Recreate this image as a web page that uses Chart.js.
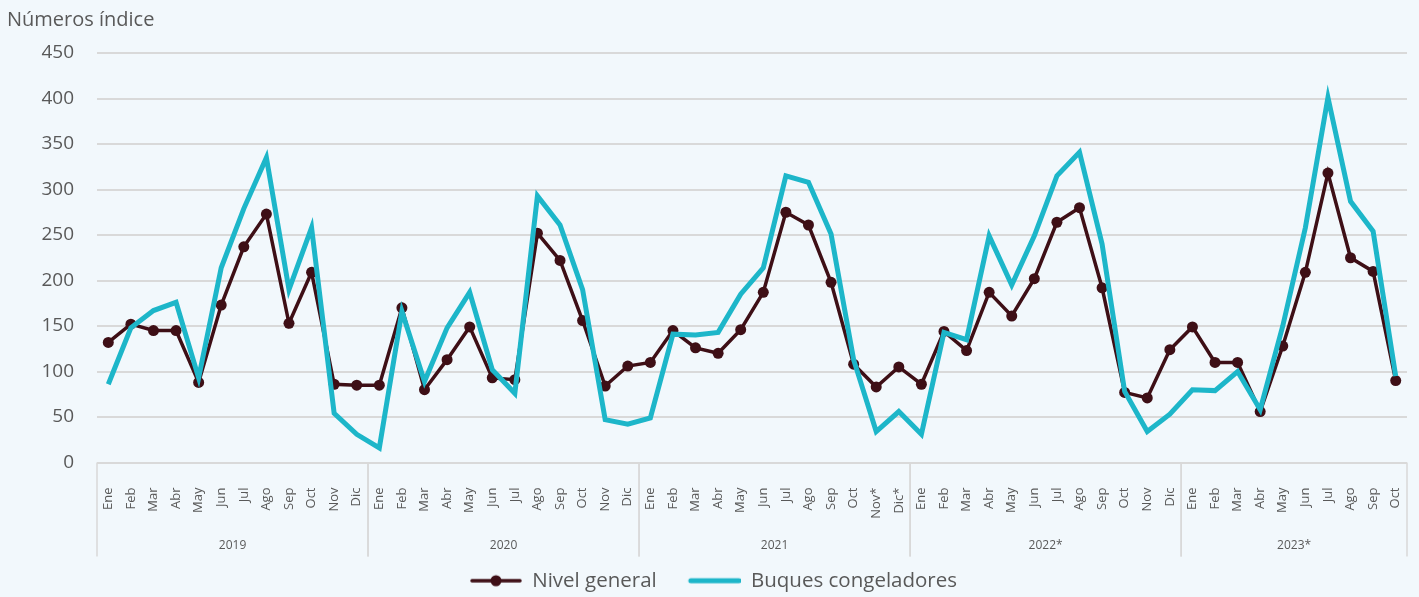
<!DOCTYPE html>
<html lang="es">
<head>
<meta charset="utf-8">
<title>Números índice</title>
<script src="https://cdn.jsdelivr.net/npm/chart.js@4.4.1/dist/chart.umd.min.js"></script>
<style>
  html, body { margin: 0; padding: 0; background: #F2F8FC; }
  #wrap { width: 1419px; height: 597px; }
</style>
</head>
<body>
<div id="wrap"><canvas id="chart" width="1419" height="597"></canvas></div>
<script>
// Months per year (2021 has provisional Nov/Dic, 2023 stops at Oct)
const meses2019 = ['Ene', 'Feb', 'Mar', 'Abr', 'May', 'Jun', 'Jul', 'Ago', 'Sep', 'Oct', 'Nov', 'Dic'];
const meses2020 = ['Ene', 'Feb', 'Mar', 'Abr', 'May', 'Jun', 'Jul', 'Ago', 'Sep', 'Oct', 'Nov', 'Dic'];
const meses2021 = ['Ene', 'Feb', 'Mar', 'Abr', 'May', 'Jun', 'Jul', 'Ago', 'Sep', 'Oct', 'Nov*', 'Dic*'];
const meses2022 = ['Ene', 'Feb', 'Mar', 'Abr', 'May', 'Jun', 'Jul', 'Ago', 'Sep', 'Oct', 'Nov', 'Dic'];
const meses2023 = ['Ene', 'Feb', 'Mar', 'Abr', 'May', 'Jun', 'Jul', 'Ago', 'Sep', 'Oct'];

const anios = ['2019', '2020', '2021', '2022*', '2023*'];
const mesesPorAnio = [meses2019, meses2020, meses2021, meses2022, meses2023];

const etiquetas = [].concat(meses2019, meses2020, meses2021, meses2022, meses2023);

// Nivel general
const nivelGeneral = [
    132, 152, 145, 145, 88, 173, 237, 273, 153, 209, 86, 85,
    85, 170, 80, 113, 149, 93, 91, 252, 222, 156, 84, 106,
    110, 145, 126, 120, 146, 187, 275, 261, 198, 108, 83, 105,
    86, 144, 123, 187, 161, 202, 264, 280, 192, 77, 71, 124,
    149, 110, 110, 56, 128, 209, 318, 225, 210, 90
];

// Buques congeladores
const buquesCongeladores = [
    86, 148, 167, 176, 93, 214, 279, 335, 190, 258, 54, 31,
    16, 166, 89, 148, 187, 102, 76, 293, 261, 190, 47, 42,
    49, 141, 140, 143, 185, 214, 315, 308, 251, 113, 34, 56,
    31, 143, 135, 249, 195, 249, 315, 341, 240, 78, 34, 53,
    80, 79, 100, 58, 150, 258, 401, 287, 254, 95
];

const FONT = '"Open Sans", "DejaVu Sans", sans-serif';
const GRIS_TEXTO = '#595959';
const GRIS_LINEA = '#D9D9D9';
const COLOR_NIVEL = '#3E0F16';
const COLOR_BUQUES = '#1DB6C9';

// Legend marker: short line, optionally with a dot in the middle
// (blank strip on the left gives the gap between legend items)
function crearMarcador(color, grosor, conPunto) {
    const c = document.createElement('canvas');
    c.width = 72;
    c.height = 14;
    const g = c.getContext('2d');
    g.strokeStyle = color;
    g.lineWidth = grosor;
    g.lineCap = 'round';
    g.beginPath();
    g.moveTo(22, 7);
    g.lineTo(70, 7);
    g.stroke();
    if (conPunto) {
        g.fillStyle = color;
        g.beginPath();
        g.arc(46, 7, 5.5, 0, Math.PI * 2);
        g.fill();
    }
    return c;
}
const marcadores = [crearMarcador(COLOR_NIVEL, 3.5, true), crearMarcador(COLOR_BUQUES, 5, false)];

// Background + title
const fondoPlugin = {
    id: 'fondo',
    beforeDraw(chart) {
        const ctx = chart.ctx;
        ctx.save();
        ctx.fillStyle = '#F2F8FC';
        ctx.fillRect(0, 0, chart.width, chart.height);
        ctx.fillStyle = GRIS_TEXTO;
        ctx.font = '20px ' + FONT;
        ctx.textAlign = 'left';
        ctx.textBaseline = 'alphabetic';
        ctx.fillText('Números índice', 7, 26);
        ctx.restore();
    }
};

// Year groups under the month labels
const aniosPlugin = {
    id: 'anios',
    afterDraw(chart) {
        const { ctx, chartArea } = chart;
        const x = chart.scales.x;
        const arriba = chartArea.bottom;
        const abajo = arriba + 94;
        ctx.save();
        ctx.strokeStyle = GRIS_LINEA;
        ctx.lineWidth = 1.5;
        ctx.fillStyle = GRIS_TEXTO;
        ctx.font = '12px ' + FONT;
        ctx.textAlign = 'center';
        ctx.textBaseline = 'middle';
        let inicio = 0;
        anios.forEach((anio, k) => {
            const fin = inicio + mesesPorAnio[k].length;
            const izq = inicio === 0 ? chartArea.left
                : (x.getPixelForValue(inicio - 1) + x.getPixelForValue(inicio)) / 2;
            const der = fin === etiquetas.length ? chartArea.right
                : (x.getPixelForValue(fin - 1) + x.getPixelForValue(fin)) / 2;
            [izq, der].forEach(px => {
                ctx.beginPath();
                ctx.moveTo(px, arriba);
                ctx.lineTo(px, abajo);
                ctx.stroke();
            });
            ctx.fillText(anio, (izq + der) / 2, arriba + 83);
            inicio = fin;
        });
        ctx.restore();
    }
};

new Chart(document.getElementById('chart'), {
    type: 'line',
    data: {
        labels: etiquetas,
        datasets: [{
            label: 'Nivel general',
            data: nivelGeneral,
            borderColor: COLOR_NIVEL,
            backgroundColor: COLOR_NIVEL,
            borderWidth: 3.5,
            pointRadius: 5.5,
            pointBackgroundColor: COLOR_NIVEL,
            pointBorderWidth: 0,
            tension: 0,
            order: 1
        }, {
            label: 'Buques congeladores',
            data: buquesCongeladores,
            borderColor: COLOR_BUQUES,
            backgroundColor: COLOR_BUQUES,
            borderWidth: 5,
            pointRadius: 0,
            tension: 0,
            order: 0
        }]
    },
    options: {
        responsive: false,
        animation: false,
        layout: { padding: { left: 0, right: 12, top: 53, bottom: -4 } },
        plugins: {
            tooltip: { enabled: false },
            legend: {
                position: 'bottom',
                labels: {
                    usePointStyle: true,
                    pointStyleWidth: 72,
                    padding: 12,
                    color: GRIS_TEXTO,
                    font: { family: FONT, size: 20.5 },
                    generateLabels: chart => chart.data.datasets.map((ds, i) => ({
                        text: ds.label,
                        pointStyle: marcadores[i],
                        datasetIndex: i,
                        hidden: false,
                        fontColor: GRIS_TEXTO,
                        lineWidth: 0,
                        strokeStyle: 'rgba(0,0,0,0)',
                        fillStyle: 'rgba(0,0,0,0)'
                    }))
                }
            }
        },
        scales: {
            x: {
                offset: true,
                grid: { display: false },
                border: { display: false },
                ticks: {
                    autoSkip: false,
                    minRotation: 90,
                    maxRotation: 90,
                    padding: 17,
                    color: GRIS_TEXTO,
                    font: { family: FONT, size: 13 }
                },
                afterFit: s => {
                    s.height = 96;
                    s.paddingLeft = 0;
                    s.paddingRight = 0;
                }
            },
            y: {
                min: 0,
                max: 450,
                ticks: {
                    stepSize: 50,
                    padding: 23,
                    color: GRIS_TEXTO,
                    font: { family: FONT, size: 19 }
                },
                grid: { color: GRIS_LINEA, lineWidth: 2, drawTicks: false },
                border: { display: false },
                afterFit: s => { s.width = 97; }
            }
        }
    },
    plugins: [fondoPlugin, aniosPlugin]
});
</script>
</body>
</html>
